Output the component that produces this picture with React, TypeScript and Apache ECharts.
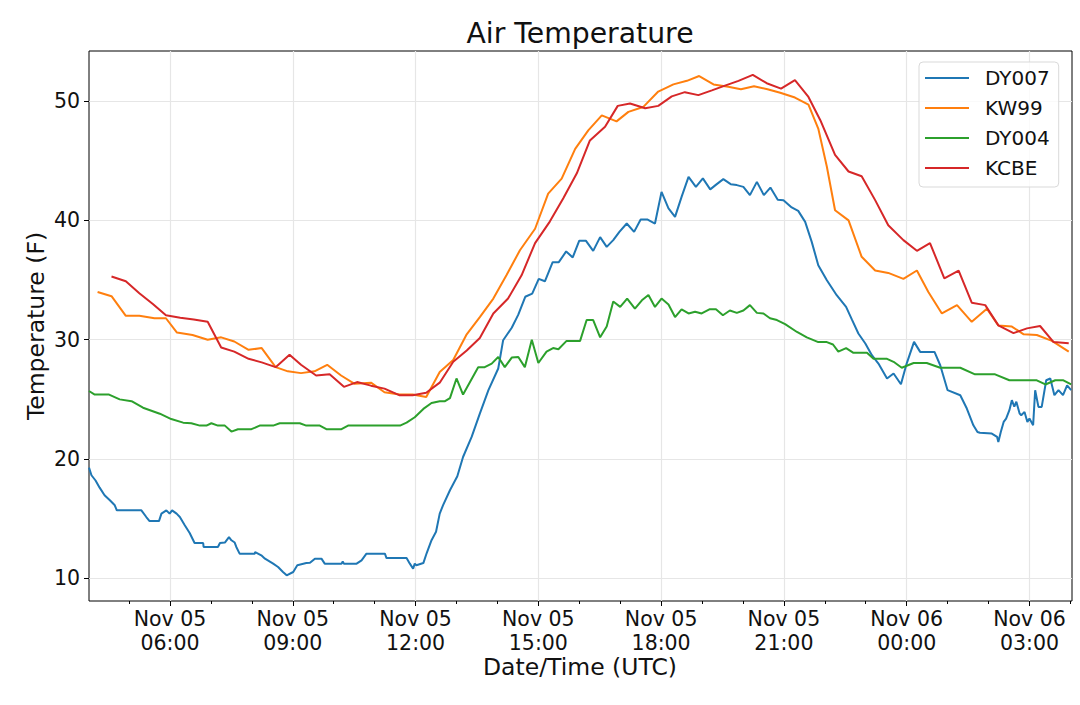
import { useEffect, useRef } from 'react'
import * as echarts from 'echarts'

const FONT = 'DejaVu Sans'

// ── Data: [hours since Nov 05 00:00 UTC, °F] ──────────────────────────────────

const dy007: [number, number][] = [
  [4.02, 19.28], [4.08, 18.64], [4.18, 18.2], [4.28, 17.6], [4.4, 16.96], [4.53, 16.54],
  [4.65, 16.12], [4.7, 15.7], [5.3, 15.7], [5.42, 15.14], [5.5, 14.8], [5.73, 14.8],
  [5.79, 15.42], [5.91, 15.7], [5.99, 15.42], [6.05, 15.7], [6.16, 15.42], [6.24, 15.14],
  [6.36, 14.45], [6.48, 13.8], [6.6, 12.96], [6.81, 12.96], [6.82, 12.63], [7.17, 12.63],
  [7.22, 12.96], [7.34, 13.0], [7.44, 13.46], [7.5, 13.19], [7.58, 13.0], [7.62, 12.63],
  [7.7, 12.07], [8.07, 12.07], [8.08, 12.2], [8.23, 11.93], [8.32, 11.65], [8.52, 11.23],
  [8.64, 10.95], [8.76, 10.53], [8.85, 10.25], [9.01, 10.53], [9.11, 11.09], [9.33, 11.28],
  [9.42, 11.3], [9.54, 11.65], [9.7, 11.65], [9.78, 11.23], [10.19, 11.23], [10.22, 11.4],
  [10.25, 11.23], [10.56, 11.23], [10.68, 11.51], [10.8, 12.07], [11.25, 12.07], [11.29, 11.7],
  [11.78, 11.7], [11.86, 11.23], [11.94, 10.81], [11.98, 11.23], [12.02, 11.1], [12.19, 11.28],
  [12.27, 12.1], [12.39, 13.2], [12.5, 13.9], [12.59, 15.42], [12.67, 16.12], [12.84, 17.38],
  [13.02, 18.55], [13.16, 20.17], [13.37, 21.85], [13.57, 23.81], [13.78, 25.77], [14.02, 27.59],
  [14.14, 29.96], [14.35, 31.0], [14.51, 32.1], [14.68, 33.6], [14.85, 33.87], [15.01, 35.1],
  [15.16, 34.9], [15.35, 36.5], [15.5, 36.5], [15.68, 37.4], [15.84, 36.9], [16.0, 38.3],
  [16.16, 38.3], [16.34, 37.45], [16.51, 38.6], [16.67, 37.78], [16.83, 38.35], [16.98, 39.04],
  [17.16, 39.74], [17.34, 39.04], [17.5, 40.08], [17.66, 40.08], [17.85, 39.74], [18.01, 42.39],
  [18.18, 41.0], [18.34, 40.3], [18.5, 41.97], [18.67, 43.65], [18.85, 42.81], [19.02, 43.52],
  [19.2, 42.6], [19.36, 43.04], [19.52, 43.46], [19.7, 43.04], [19.85, 42.96], [20.01, 42.81],
  [20.17, 42.12], [20.34, 43.23], [20.51, 42.12], [20.67, 42.75], [20.85, 41.73], [20.99, 41.7],
  [21.19, 41.09], [21.35, 40.8], [21.52, 39.88], [21.68, 38.2], [21.84, 36.25], [22.05, 34.99],
  [22.29, 33.73], [22.52, 32.75], [22.66, 31.7], [22.82, 30.52], [22.99, 29.68], [23.15, 28.7],
  [23.31, 28.0], [23.52, 26.75], [23.68, 27.17], [23.86, 26.27], [24.0, 28.0], [24.18, 29.82],
  [24.33, 28.98], [24.68, 28.98], [24.82, 27.86], [25.0, 25.77], [25.31, 25.35], [25.47, 24.23],
  [25.63, 22.83], [25.73, 22.27], [25.79, 22.2], [26.08, 22.13], [26.21, 21.85], [26.24, 21.43],
  [26.3, 22.27], [26.37, 23.11], [26.43, 23.39], [26.51, 24.09], [26.57, 24.93], [26.63, 24.4],
  [26.68, 24.8], [26.76, 23.81], [26.8, 23.67], [26.88, 23.95], [26.95, 23.11], [27.0, 23.39],
  [27.09, 22.83], [27.14, 25.77], [27.22, 24.37], [27.3, 24.37], [27.41, 26.6], [27.51, 26.75],
  [27.61, 25.35], [27.71, 25.77], [27.82, 25.35], [27.92, 26.18], [28.02, 25.77],
]

const kw99: [number, number][] = [
  [4.23, 34.0], [4.57, 33.65], [4.92, 32.0], [5.25, 32.0], [5.62, 31.8], [5.9, 31.8],
  [6.17, 30.6], [6.55, 30.4], [6.92, 30.0], [7.25, 30.2], [7.57, 29.85], [7.92, 29.15],
  [8.24, 29.3], [8.58, 27.7], [8.88, 27.35], [9.2, 27.2], [9.53, 27.35], [9.84, 27.9],
  [10.18, 27.0], [10.51, 26.3], [10.91, 26.4], [11.24, 25.6], [11.61, 25.4], [11.93, 25.4],
  [12.26, 25.2], [12.59, 27.3], [12.92, 28.3], [13.24, 30.4], [13.57, 31.9], [13.9, 33.45],
  [14.22, 35.4], [14.55, 37.5], [14.92, 39.3], [15.24, 42.25], [15.57, 43.5], [15.9, 46.0],
  [16.22, 47.55], [16.55, 48.8], [16.91, 48.3], [17.2, 49.1], [17.56, 49.5], [17.93, 50.8],
  [18.3, 51.4], [18.63, 51.7], [18.93, 52.1], [19.28, 51.4], [19.64, 51.2], [19.95, 51.0],
  [20.27, 51.25], [20.6, 51.0], [20.91, 50.7], [21.27, 50.3], [21.6, 49.7], [21.84, 47.7],
  [22.05, 44.5], [22.25, 40.85], [22.58, 40.0], [22.9, 36.95], [23.23, 35.8], [23.55, 35.6],
  [23.92, 35.1], [24.25, 35.8], [24.53, 34.0], [24.86, 32.2], [25.23, 32.9], [25.59, 31.5],
  [25.96, 32.6], [26.24, 31.2], [26.57, 31.1], [26.86, 30.45], [27.18, 30.4], [27.55, 29.9],
  [27.96, 29.0],
]

const dy004: [number, number][] = [
  [4.02, 25.7], [4.16, 25.4], [4.51, 25.4], [4.77, 25.0], [5.06, 24.85], [5.34, 24.3],
  [5.75, 23.8], [6.03, 23.35], [6.32, 23.05], [6.52, 23.0], [6.73, 22.8], [6.89, 22.8],
  [7.01, 23.0], [7.17, 22.8], [7.34, 22.8], [7.5, 22.3], [7.66, 22.5], [7.99, 22.5],
  [8.19, 22.8], [8.52, 22.8], [8.68, 23.0], [9.17, 23.0], [9.33, 22.8], [9.66, 22.8],
  [9.82, 22.5], [10.19, 22.5], [10.35, 22.8], [11.62, 22.8], [11.78, 23.05], [11.98, 23.5],
  [12.19, 24.2], [12.39, 24.7], [12.59, 24.85], [12.72, 24.85], [12.84, 25.1], [13.0, 26.75],
  [13.16, 25.4], [13.53, 27.7], [13.69, 27.7], [13.86, 28.0], [14.02, 28.55], [14.18, 27.7],
  [14.35, 28.5], [14.51, 28.55], [14.67, 27.7], [14.84, 30.0], [15.0, 28.05], [15.2, 29.0],
  [15.36, 29.3], [15.49, 29.2], [15.69, 29.9], [16.02, 29.9], [16.18, 31.65], [16.34, 31.65],
  [16.51, 30.2], [16.67, 31.1], [16.83, 33.2], [17.0, 32.75], [17.17, 33.45], [17.36, 32.6],
  [17.53, 33.3], [17.69, 33.75], [17.85, 32.75], [18.01, 33.45], [18.18, 32.95], [18.34, 31.9],
  [18.5, 32.55], [18.67, 32.2], [18.83, 32.35], [18.99, 32.2], [19.18, 32.55], [19.34, 32.55],
  [19.51, 32.05], [19.68, 32.45], [19.85, 32.25], [20.01, 32.45], [20.17, 32.9], [20.34, 32.25],
  [20.5, 32.2], [20.66, 31.8], [20.83, 31.65], [21.03, 31.3], [21.32, 30.65], [21.56, 30.2],
  [21.84, 29.8], [22.05, 29.8], [22.2, 29.6], [22.33, 29.0], [22.52, 29.3], [22.7, 28.9],
  [23.03, 28.9], [23.19, 28.4], [23.52, 28.4], [23.68, 28.15], [23.88, 27.65], [24.17, 28.05],
  [24.49, 28.05], [24.82, 27.65], [25.31, 27.65], [25.67, 27.1], [26.16, 27.1], [26.51, 26.6],
  [27.18, 26.6], [27.39, 26.25], [27.63, 26.6], [27.83, 26.6], [28.02, 26.25],
]

const kcbe: [number, number][] = [
  [4.57, 35.3], [4.92, 34.9], [5.25, 33.9], [5.58, 33.0], [5.9, 32.05], [6.25, 31.85],
  [6.58, 31.7], [6.92, 31.5], [7.25, 29.35], [7.57, 29.0], [7.92, 28.4], [8.24, 28.1],
  [8.58, 27.7], [8.92, 28.75], [9.2, 27.9], [9.57, 27.0], [9.9, 27.1], [10.25, 26.05],
  [10.57, 26.45], [10.91, 26.15], [11.24, 25.9], [11.6, 25.35], [11.93, 25.35], [12.26, 25.55],
  [12.59, 26.4], [12.92, 28.15], [13.25, 29.1], [13.57, 30.15], [13.9, 32.2], [14.26, 33.45],
  [14.59, 35.4], [14.92, 38.1], [15.28, 39.9], [15.61, 41.85], [15.94, 43.95], [16.26, 46.7],
  [16.63, 47.85], [16.94, 49.6], [17.24, 49.8], [17.61, 49.4], [17.93, 49.6], [18.26, 50.4],
  [18.58, 50.75], [18.91, 50.5], [19.24, 50.9], [19.56, 51.3], [19.89, 51.7], [20.24, 52.2],
  [20.58, 51.5], [20.93, 51.05], [21.27, 51.75], [21.6, 50.35], [21.89, 48.4], [22.25, 45.5],
  [22.58, 44.1], [22.9, 43.7], [23.23, 41.7], [23.55, 39.6], [23.92, 38.35], [24.25, 37.45],
  [24.57, 38.1], [24.92, 35.15], [25.27, 35.8], [25.59, 33.1], [25.92, 32.9], [26.24, 31.2],
  [26.61, 30.55], [26.94, 30.95], [27.26, 31.15], [27.59, 29.8], [27.96, 29.7],
]

const seriesNames = ['DY007', 'KW99', 'DY004', 'KCBE']
const seriesData = [dy007, kw99, dy004, kcbe]
const seriesColors = ['#1f77b4', '#ff7f0e', '#2ca02c', '#d62728']

// axis extents (hours / °F) and tick positions
const xMin = 4.02
const xMax = 28.04
const yMin = 8.1
const yMax = 54.2
const majorHours = [6, 9, 12, 15, 18, 21, 24, 27]
const minorHours = [5, 6, 7, 8, 9, 10, 11, 12, 13, 14, 15, 16, 17, 18, 19, 20, 21, 22, 23, 24, 25, 26, 27, 28]
const tempTicks = [10, 20, 30, 40, 50]

// ── Formatting helpers ────────────────────────────────────────────────────────

function fmtTime(v: number): string {
  const r = Math.round(v)
  if (Math.abs(v - r) > 1e-6 || r % 3 !== 0) return ''
  const day = r >= 24 ? 'Nov 06' : 'Nov 05'
  return `${day}\n${String(r % 24).padStart(2, '0')}:00`
}

function fmtTemp(v: number): string {
  const r = Math.round(v / 10) * 10
  return Math.abs(v - r) < 1e-6 ? String(r) : ''
}

const gridLine = { show: true, lineStyle: { color: '#e6e6e6', width: 1.2 } }
const tickStyle = { color: '#000', width: 1 }
const TEXT = '#111'

export default function App() {
  const ref = useRef<HTMLDivElement>(null)

  useEffect(() => {
    if (!ref.current) return
    const chart = echarts.init(ref.current, null, { renderer: 'svg' })
    chart.setOption({
      animation: false,
      grid: {
        left: 89, right: 8, top: 51, bottom: 104,
        show: true, borderColor: '#000', borderWidth: 1,
      },
      xAxis: [
        {
          type: 'value', min: xMin, max: xMax,
          splitNumber: 8, minInterval: 3, maxInterval: 3,
          axisLine: { show: false },
          axisTick: { show: true, length: 5, lineStyle: tickStyle, customValues: majorHours },
          axisLabel: {
            formatter: fmtTime, fontSize: 20.5, lineHeight: 24, margin: 6,
            color: TEXT, fontFamily: FONT,
          },
          splitLine: gridLine,
        },
        {
          // hourly minor ticks
          type: 'value', position: 'bottom', min: xMin, max: xMax,
          splitNumber: 24, minInterval: 1, maxInterval: 1,
          axisLine: { show: false },
          axisTick: { show: true, length: 3, lineStyle: tickStyle, customValues: minorHours },
          axisLabel: { show: false },
          splitLine: { show: false },
        },
      ],
      yAxis: {
        type: 'value', min: yMin, max: yMax,
        splitNumber: 5, minInterval: 10, maxInterval: 10,
        axisLine: { show: false },
        axisTick: { show: true, length: 5, lineStyle: tickStyle, customValues: tempTicks },
        axisLabel: {
          formatter: fmtTemp, fontSize: 20.5, margin: 9,
          color: TEXT, fontFamily: FONT,
        },
        splitLine: gridLine,
      },
      legend: {
        orient: 'vertical', left: 919, top: 62,
        icon: 'rect', itemWidth: 44, itemHeight: 2, itemGap: 10,
        padding: [6, 9, 9, 6],
        backgroundColor: 'rgba(255,255,255,0.8)',
        borderColor: '#d9d9d9', borderWidth: 1, borderRadius: 4,
        formatter: (name: string) => `{n|${name}}`,
        textStyle: {
          fontSize: 20, fontFamily: FONT, color: TEXT, lineHeight: 20,
          rich: { n: { fontSize: 20, fontFamily: FONT, color: TEXT, lineHeight: 20, padding: [0, 0, 0, 11] } },
        },
        data: seriesNames,
      },
      series: seriesNames.map((name, i) => ({
        name,
        type: 'line',
        data: seriesData[i],
        symbol: 'none',
        color: seriesColors[i],
        lineStyle: { color: seriesColors[i], width: 2 },
      })),
      graphic: [
        {
          type: 'text', x: 580, y: 33,
          style: {
            text: 'Air Temperature', font: `28.3px "${FONT}"`, fill: TEXT,
            align: 'center', verticalAlign: 'middle',
          },
        },
        {
          type: 'text', x: 580, y: 667,
          style: {
            text: 'Date/Time (UTC)', font: `23.5px "${FONT}"`, fill: TEXT,
            align: 'center', verticalAlign: 'middle',
          },
        },
        {
          type: 'text', x: 36, y: 326, rotation: Math.PI / 2,
          style: {
            text: 'Temperature (F)', font: `23.5px "${FONT}"`, fill: TEXT,
            align: 'center', verticalAlign: 'middle',
          },
        },
      ],
    })
    return () => { chart.dispose() }
  }, [])

  return (
    <div
      ref={ref}
      style={{ position: 'absolute', left: 0, top: 0, width: 1080, height: 705, background: '#fff' }}
    />
  )
}
